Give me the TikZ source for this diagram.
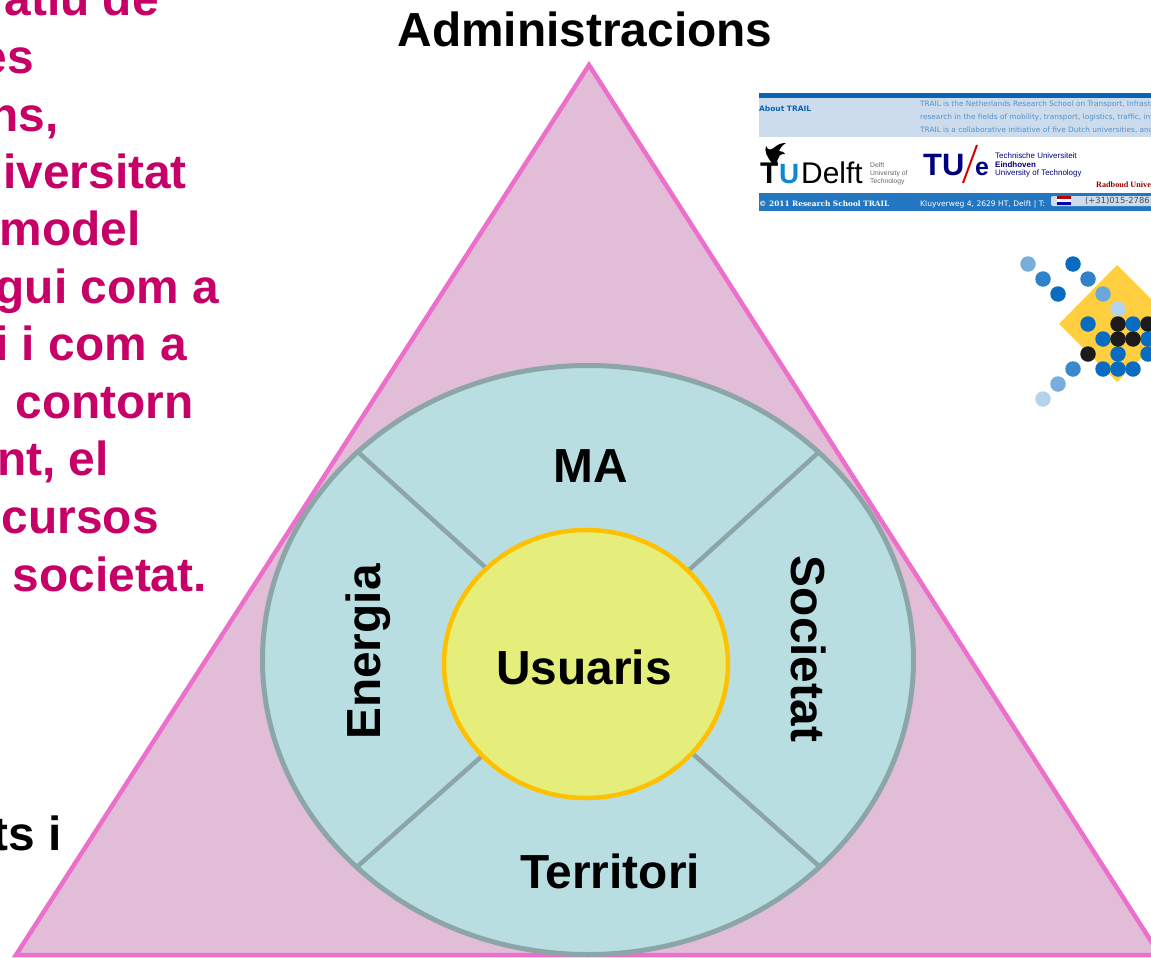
\documentclass[tikz,border=0pt]{standalone}
\usepackage{fontspec}
\setmainfont{Liberation Sans}
\newfontfamily\dv{DejaVu Sans}
\newfontfamily\dvs{DejaVu Serif}
\newfontfamily\ls{Liberation Serif}
\definecolor{trifill}{HTML}{E1BDD8}
\definecolor{triline}{HTML}{EC6FCB}
\definecolor{ringfill}{HTML}{B9DEE2}
\definecolor{ringline}{HTML}{8CA6A8}
\definecolor{corefill}{HTML}{E5EE7A}
\definecolor{coreline}{HTML}{FFC000}
\definecolor{crimson}{HTML}{C60066}
\definecolor{tblue}{HTML}{0A63B5}
\definecolor{tbar}{HTML}{2377C0}
\definecolor{tpale}{HTML}{CCDCEC}
\definecolor{dotb}{HTML}{0A6CC0}
\definecolor{dotk}{HTML}{1C1A1A}
\definecolor{diam}{HTML}{FFCF3F}
\begin{document}
\begin{tikzpicture}[x=1bp,y=-1bp,
  lab/.style={font=\bfseries\fontsize{48}{50}\selectfont,text=black,inner sep=0pt},
  lefttext/.style={font=\bfseries\fontsize{48}{50}\selectfont,text=crimson,inner sep=0pt,anchor=base east},
  tiny/.style={anchor=west,inner sep=0pt},
  dot/.style={circle,inner sep=0pt,minimum size=15.5bp,fill=dotb}]
\useasboundingbox (0,0) rectangle (1151,958);
\begin{scope}
\clip (0,0) rectangle (1151,958);
\fill[white] (0,0) rectangle (1151,958);
% left text
\node[lefttext] (l1) at (159,15) {atiu de};
\node[lefttext] (l2) at (34,73) {es};
\node[lefttext] (l3) at (59,131) {ns,};
\node[lefttext] (l4) at (187,188) {iversitat};
\node[lefttext] (l5) at (141,245) {model};
\node[lefttext] (l6) at (219,303) {gui com a};
\node[lefttext] (l7) at (187,360) {i i com a};
\node[lefttext] (l8) at (194,418) {e contorn};
\node[lefttext] (l9) at (109,475) {nt, el};
\node[lefttext] (l10) at (159,533) {ecursos};
\node[lefttext] (l11) at (207,591) {societat.};
\node[lab,anchor=base east] (l12) at (62,850) {ts i};
% triangle
\coordinate (apex) at (589,65);
\coordinate (bl) at (16,955);
\coordinate (br) at (1160,955);
\draw[line width=4.5bp,draw=triline,fill=trifill,line join=miter] (apex) -- (br) -- (bl) -- cycle;
% ring
\draw[draw=ringline,fill=ringfill,line width=5bp] (588,660) ellipse [x radius=325.5,y radius=294.5];
\coordinate (a1) at (358,452); \coordinate (a2) at (486,568);
\coordinate (b1) at (819,452); \coordinate (b2) at (689,570);
\coordinate (c1) at (358,866); \coordinate (c2) at (482,756);
\coordinate (d1) at (819,866); \coordinate (d2) at (693,754);
\draw[draw=ringline,line width=4.5bp] (a1)--(a2) (b1)--(b2) (c1)--(c2) (d1)--(d2);
\draw[draw=coreline,fill=corefill,line width=4.5bp] (586,664) ellipse [x radius=142,y radius=134];
\node[lab] (usu) at (584,667) {Usuaris};
\node[lab] (ma) at (591,466) {MA};
\node[lab] (ter) at (610,871) {Territori};
\node[lab,rotate=90] (ene) at (368,652) {Energia};
\node[lab,rotate=-90] (soc) at (809,649) {Societat};
\node[lab] (adm) at (585,29) {Administracions};
% TRAIL screenshot
\fill[tblue] (759,93) rectangle (1151,98);
\fill[tpale] (759,98) rectangle (1151,137);
\fill[tbar] (759,193) rectangle (1151,211);
\begin{scope}
\clip (759,90) rectangle (1151,215);
\node[tiny,text=tblue,font=\dv\bfseries\fontsize{7.5}{8}\selectfont] (t1) at (759,109) {About TRAIL};
\node[tiny,text=tblue!70,font=\dv\fontsize{7.4}{8}\selectfont] (t2) at (920,104) {TRAIL is the Netherlands Research School on Transport, Infrastructure and Logistics};
\node[tiny,text=tblue!70,font=\dv\fontsize{7.4}{8}\selectfont] (t3) at (920,117) {research in the fields of mobility, transport, logistics, traffic, infrastructure};
\node[tiny,text=tblue!70,font=\dv\fontsize{7.4}{8}\selectfont] (t4) at (920,130) {TRAIL is a collaborative initiative of five Dutch universities, and};
% TU Delft
\fill[black] (772,163) .. controls (767,157) and (764,151) .. (766,146) .. controls (768,151) and (771,150) .. (775,147) .. controls (778,144) and (782,143) .. (786,143) .. controls (781,146) and (780,149) .. (779,151) .. controls (782,151) and (784,152) .. (785,154) .. controls (781,153) and (778,156) .. (777,163) -- cycle;
\node[anchor=base west,inner sep=0pt,font=\bfseries\fontsize{30}{32}\selectfont] (dt) at (760,183) {T};
\node[anchor=base west,inner sep=0pt,text=cyan!70!blue,font=\bfseries\fontsize{28}{32}\selectfont] (du) at (779,183) {U};
\node[anchor=base west,inner sep=0pt,font=\fontsize{30}{32}\selectfont] (delft) at (801,183) {Delft};
\node[tiny,font=\fontsize{6.8}{8}\selectfont,align=left,text=black!60] (delft2) at (870,174) {Delft\\University of\\Technology};
% TU/e
\node[anchor=base west,font=\bfseries\fontsize{31}{34}\selectfont,text=blue!50!black,inner sep=0pt] (tue) at (923,175) {TU};
\coordinate (sl1) at (963,183); \coordinate (sl2) at (977,145);
\draw[red!85!black,line width=2bp] (sl1) -- (sl2);
\node[anchor=base west,font=\bfseries\fontsize{25}{30}\selectfont,text=blue!50!black,inner sep=0pt] (tue2) at (975,175) {e};
\node[tiny,font=\fontsize{8}{8.6}\selectfont,align=left,text=blue!50!black] (tue3) at (995,165) {Technische Universiteit\\\textbf{Eindhoven}\\University of Technology};
\node[tiny,font=\ls\bfseries\fontsize{8.2}{9}\selectfont,text=red!60!black] (rad) at (1096,186) {Radboud University};
\node[tiny,font=\dvs\bfseries\fontsize{7.4}{8}\selectfont,text=white] (cp) at (759,204) {© 2011 Research School TRAIL};
\node[tiny,font=\dv\fontsize{7.6}{8}\selectfont,text=white] (ad) at (920,204) {Kluyverweg 4, 2629 HT, Delft | T:};
\fill[tpale,rounded corners=2bp] (1051,196) rectangle (1160,206);
\fill[red!70!black] (1057,196) rectangle (1071,199);
\fill[white] (1057,199) rectangle (1071,202);
\fill[blue!70!black] (1057,202) rectangle (1071,205);
\node[tiny,font=\dv\fontsize{8.4}{8}\selectfont,text=black!70] (ph) at (1085,201) {(+31)015-2786};
\end{scope}
% logo
\begin{scope}
\clip (1015,250) rectangle (1151,415);
\fill[diam] (1117,265) -- (1176,324) -- (1117,382) -- (1059,324) -- cycle;
\foreach \n/\x/\y/\c in {p1/1028/264/55,p2/1073/264/100,p3/1043/279/85,p4/1088/279/85,p5/1058/294/100,p6/1103/294/60,p7/1118/309/30,
 p8/1088/324/100,p9/1133/324/100,p10/1103/339/100,p11/1148/339/100,p12/1118/354/100,p13/1073/369/80,p14/1103/369/100,p15/1118/369/100,p16/1133/369/100,p17/1058/384/55,p18/1043/399/30,p19/1148/354/100}
  {\node[dot,fill=dotb!\c!white] (\n) at (\x,\y) {};}
\foreach \n/\x/\y in {k1/1118/324,k2/1148/324,k3/1118/339,k4/1133/339,k5/1088/354}
  {\node[dot,fill=dotk] (\n) at (\x,\y) {};}
\end{scope}
\end{scope}
\end{tikzpicture}
\end{document}
